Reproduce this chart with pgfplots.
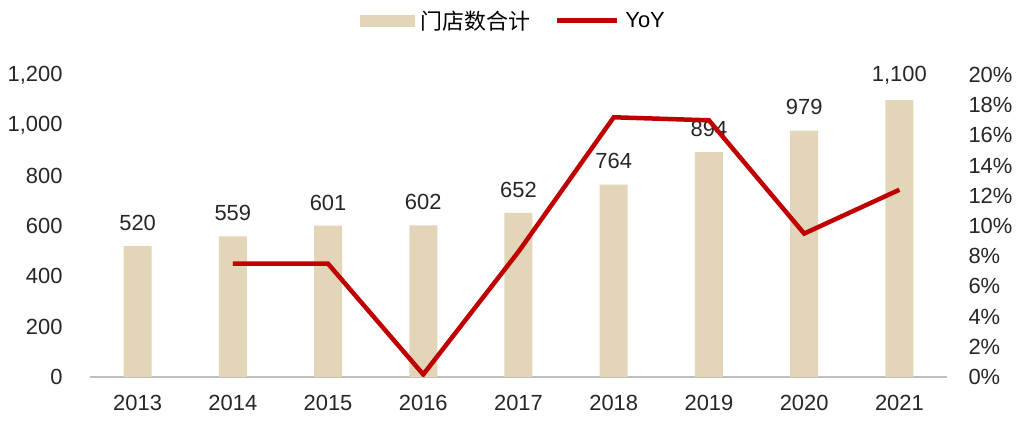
\documentclass[border=0pt]{standalone}
\usepackage{fontspec}
\setmainfont{Liberation Sans}
\newfontfamily\cjk{Noto Sans CJK SC}
\usepackage{pgfplots}
\pgfplotsset{compat=1.18}
\definecolor{barbeige}{HTML}{E3D5B8}
\definecolor{yoyred}{HTML}{C00000}
\definecolor{axgray}{HTML}{BFBFBF}
\definecolor{txt}{HTML}{262626}

\begin{document}
\begin{tikzpicture}[font=\fontsize{22}{26}\selectfont\color{txt}]
\path[use as bounding box] (0,0) rectangle (1030bp,430bp);
\begin{axis}[
    at={(90bp,53bp)}, anchor=south west,
    scale only axis, width=857bp, height=302bp,
    xmin=-0.5, xmax=8.5, ymin=0, ymax=1200,
    ytick={0,200,...,1200},
    xtick={0,...,8},
    xticklabels={2013,2014,2015,2016,2017,2018,2019,2020,2021},
    /pgf/number format/assume math mode=true,
    /pgf/number format/1000 sep={,},
    axis y line*=left, axis x line*=bottom,
    y axis line style={draw=none},
    x axis line style={draw=axgray, line width=1.2bp},
    major tick length=0pt,
    ticklabel style={font=\fontsize{22}{26}\selectfont, text=txt},
    yticklabel style={xshift=-24bp},
    xticklabel style={yshift=-15bp},
    nodes near coords,
    every node near coord/.append style={font=\fontsize{22}{26}\selectfont, text=txt, yshift=12bp},
    legend style={at={(0.494,1.18)}, anchor=center, draw=none, fill=none,
        legend columns=-1, font=\fontsize{22}{26}\selectfont,
        /tikz/every odd column/.append style={column sep=4bp},
        /tikz/every even column/.append style={column sep=22bp}},
]
\addplot[ybar, bar width=28bp, fill=barbeige, draw=none,
    legend image code/.code={\fill[barbeige] (0bp,-6bp) rectangle (55bp,6bp);}]
  coordinates {(0,520) (1,559) (2,601) (3,602) (4,652) (5,764) (6,894) (7,979) (8,1100)};
\addlegendentry{\cjk 门店数合计}
\addlegendimage{yoyred, line width=5bp, legend image code/.code={\draw[yoyred, line width=5bp] (0bp,0bp) -- (60bp,0bp);}}
\addlegendentry{YoY}
\end{axis}
\begin{axis}[
    at={(90bp,53bp)}, anchor=south west,
    scale only axis, width=857bp, height=302bp,
    xmin=-0.5, xmax=8.5, ymin=0, ymax=20,
    ytick={0,2,...,20},
    yticklabel={\pgfmathprintnumber{\tick}\%},
    /pgf/number format/assume math mode=true,
    axis y line*=right, axis x line=none,
    y axis line style={draw=none},
    major tick length=0pt,
    ticklabel style={font=\fontsize{22}{26}\selectfont, text=txt},
    yticklabel style={xshift=18bp},
]
\addplot[yoyred, line width=4.5bp, line join=miter, mark=none]
  coordinates {(1,7.5) (2,7.5) (3,0.17) (4,8.3) (5,17.2) (6,17.0) (7,9.5) (8,12.4)};
\end{axis}
\end{tikzpicture}
\end{document}
